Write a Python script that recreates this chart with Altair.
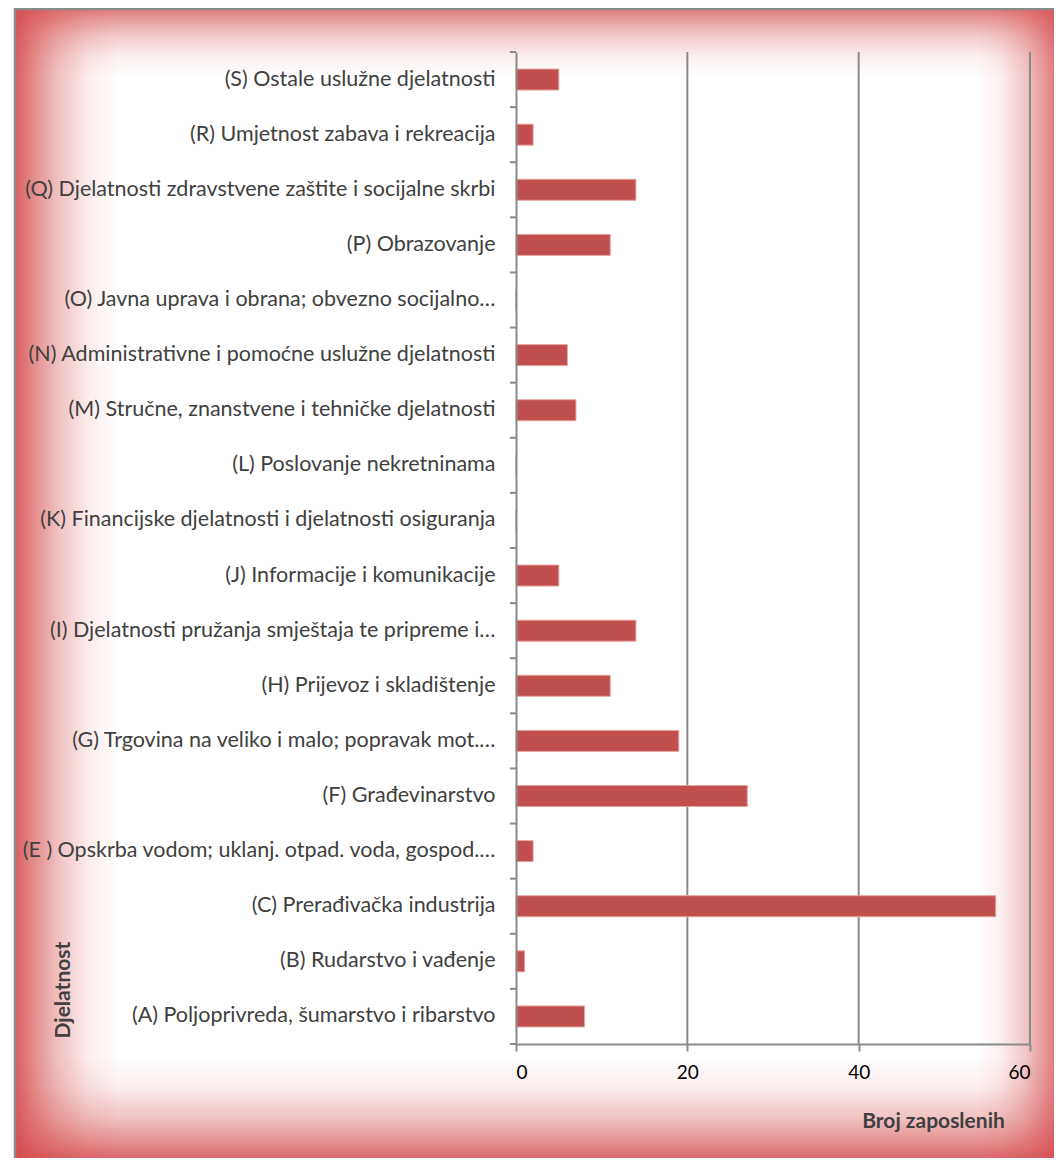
import altair as alt
import pandas as pd

# ---- data (top to bottom as in the chart) ----
categories = [
    "(S) Ostale uslužne djelatnosti",
    "(R) Umjetnost zabava i rekreacija",
    "(Q) Djelatnosti zdravstvene zaštite  i socijalne skrbi",
    "(P) Obrazovanje",
    "(O) Javna uprava i obrana; obvezno socijalno…",
    "(N) Administrativne i pomoćne uslužne djelatnosti",
    "(M) Stručne, znanstvene i tehničke djelatnosti",
    "(L) Poslovanje nekretninama",
    "(K) Financijske djelatnosti i djelatnosti osiguranja",
    "(J) Informacije i komunikacije",
    "(I) Djelatnosti pružanja smještaja te pripreme i…",
    "(H) Prijevoz i skladištenje",
    "(G) Trgovina na veliko i malo; popravak mot.…",
    "(F) Građevinarstvo",
    "(E ) Opskrba vodom; uklanj. otpad. voda, gospod.…",
    "(C) Prerađivačka industrija",
    "(B) Rudarstvo i vađenje",
    "(A) Poljoprivreda, šumarstvo i ribarstvo",
]
values = [5, 2, 14, 11, 0, 6, 7, 0, 0, 5, 14, 11, 19, 27, 2, 56, 1, 8]
x_ticks = [0, 20, 40, 60]
grid_values = [20, 40, 60]

df = pd.DataFrame({"cat": categories, "val": values})
grid_df = pd.DataFrame({"g": grid_values})
last_df = df.tail(1)
one = pd.DataFrame({"k": [0]})

FONT = "Lato"
TXT = "#404040"
GRAY = "#8a8a8a"
BAR = "#C0504D"

PW, PH = 514, 992
PAD = {"left": 508, "top": 44, "right": 24, "bottom": 114}

def grad(x1, y1, x2, y2, stops):
    return alt.LinearGradient(
        gradient="linear",
        stops=[alt.GradientStop(offset=o, color=c) for o, c in stops],
        x1=x1, y1=y1, x2=x2, y2=y2,
    )

def red(a):
    return f"rgba(212,72,74,{a})"

def fade(a0):
    return [(0, red(a0)), (0.15, red(a0 * 0.75)), (0.4, red(a0 * 0.4)),
            (0.7, red(a0 * 0.12)), (1, red(0))]

left_glow = alt.Chart(one).mark_rect(fill=grad(0, 0, 1, 0, fade(0.88)), strokeWidth=0).encode(
    x=alt.value(-500), x2=alt.value(-398), y=alt.value(-43), y2=alt.value(1108))
top_glow = alt.Chart(one).mark_rect(fill=grad(0, 0, 0, 1, fade(0.72)), strokeWidth=0).encode(
    x=alt.value(-500), x2=alt.value(540), y=alt.value(-43), y2=alt.value(25))
right_glow = alt.Chart(one).mark_rect(fill=grad(1, 0, 0, 0, fade(0.75)), strokeWidth=0).encode(
    x=alt.value(462), x2=alt.value(540), y=alt.value(-43), y2=alt.value(1108))
bottom_glow = alt.Chart(one).mark_rect(fill=grad(0, 1, 0, 0, fade(0.85)), strokeWidth=0).encode(
    x=alt.value(-500), x2=alt.value(540), y=alt.value(1005), y2=alt.value(1108))

top_line = alt.Chart(one).mark_rule(color=GRAY, strokeWidth=2.5).encode(
    x=alt.value(-502), x2=alt.value(540), y=alt.value(-43))
left_line = alt.Chart(one).mark_rule(color=GRAY, strokeWidth=2.5).encode(
    x=alt.value(-501), y=alt.value(-44), y2=alt.value(1108))

x_enc = alt.X(
    "val:Q",
    scale=alt.Scale(domain=[0, 60], nice=False),
    axis=alt.Axis(
        values=x_ticks, grid=False,
        domainColor=GRAY, domainWidth=2, tickColor=GRAY, tickWidth=2, tickSize=7,
        labelFont=FONT, labelFontSize=19, labelColor="#000000", labelPadding=12,
        title="Broj zaposlenih", titleFont=FONT, titleFontSize=21, titleFontWeight="bold",
        titleColor=TXT, titleX=417, titleY=77, titleAlign="center", titleBaseline="middle",
        zindex=2,
    ),
)
y_enc = alt.Y(
    "cat:N",
    sort=categories,
    scale=alt.Scale(paddingInner=0, paddingOuter=0),
    axis=alt.Axis(
        grid=False, ticks=False,
        domainColor=GRAY, domainWidth=2,
        labelFont=FONT, labelFontSize=21.5, labelColor=TXT, labelPadding=21, labelLimit=0,
        title="Djelatnost", titleFont=FONT, titleFontSize=21, titleFontWeight="bold",
        titleColor=TXT, titleAngle=270, titleAlign="left", titleBaseline="middle",
        titleX=-453, titleY=986,
        zindex=2,
    ),
)

grid = alt.Chart(grid_df).mark_rule(color=GRAY, strokeWidth=2).encode(
    x=alt.X("g:Q"), y=alt.value(0), y2=alt.value(PH))

bars = alt.Chart(df).mark_bar(color=BAR, stroke="#e7a3a1", strokeWidth=1, size=21).encode(
    x=x_enc, y=y_enc)

yticks = alt.Chart(df).mark_rule(color=GRAY, strokeWidth=2).encode(
    y=alt.Y("cat:N", sort=categories, bandPosition=0),
    x=alt.value(-6), x2=alt.value(0))
ytick_end = alt.Chart(last_df).mark_rule(color=GRAY, strokeWidth=2).encode(
    y=alt.Y("cat:N", sort=categories, bandPosition=1),
    x=alt.value(-6), x2=alt.value(0))

chart = alt.layer(
    left_glow, top_glow, right_glow, bottom_glow, top_line, left_line,
    grid, bars, yticks, ytick_end
).properties(
    width=PW, height=PH,
    autosize=alt.AutoSizeParams(type="none"),
    padding=PAD,
    background="white",
).configure_view(stroke=None)

chart.save("out.html", embed_options={"renderer": "svg", "actions": False})
